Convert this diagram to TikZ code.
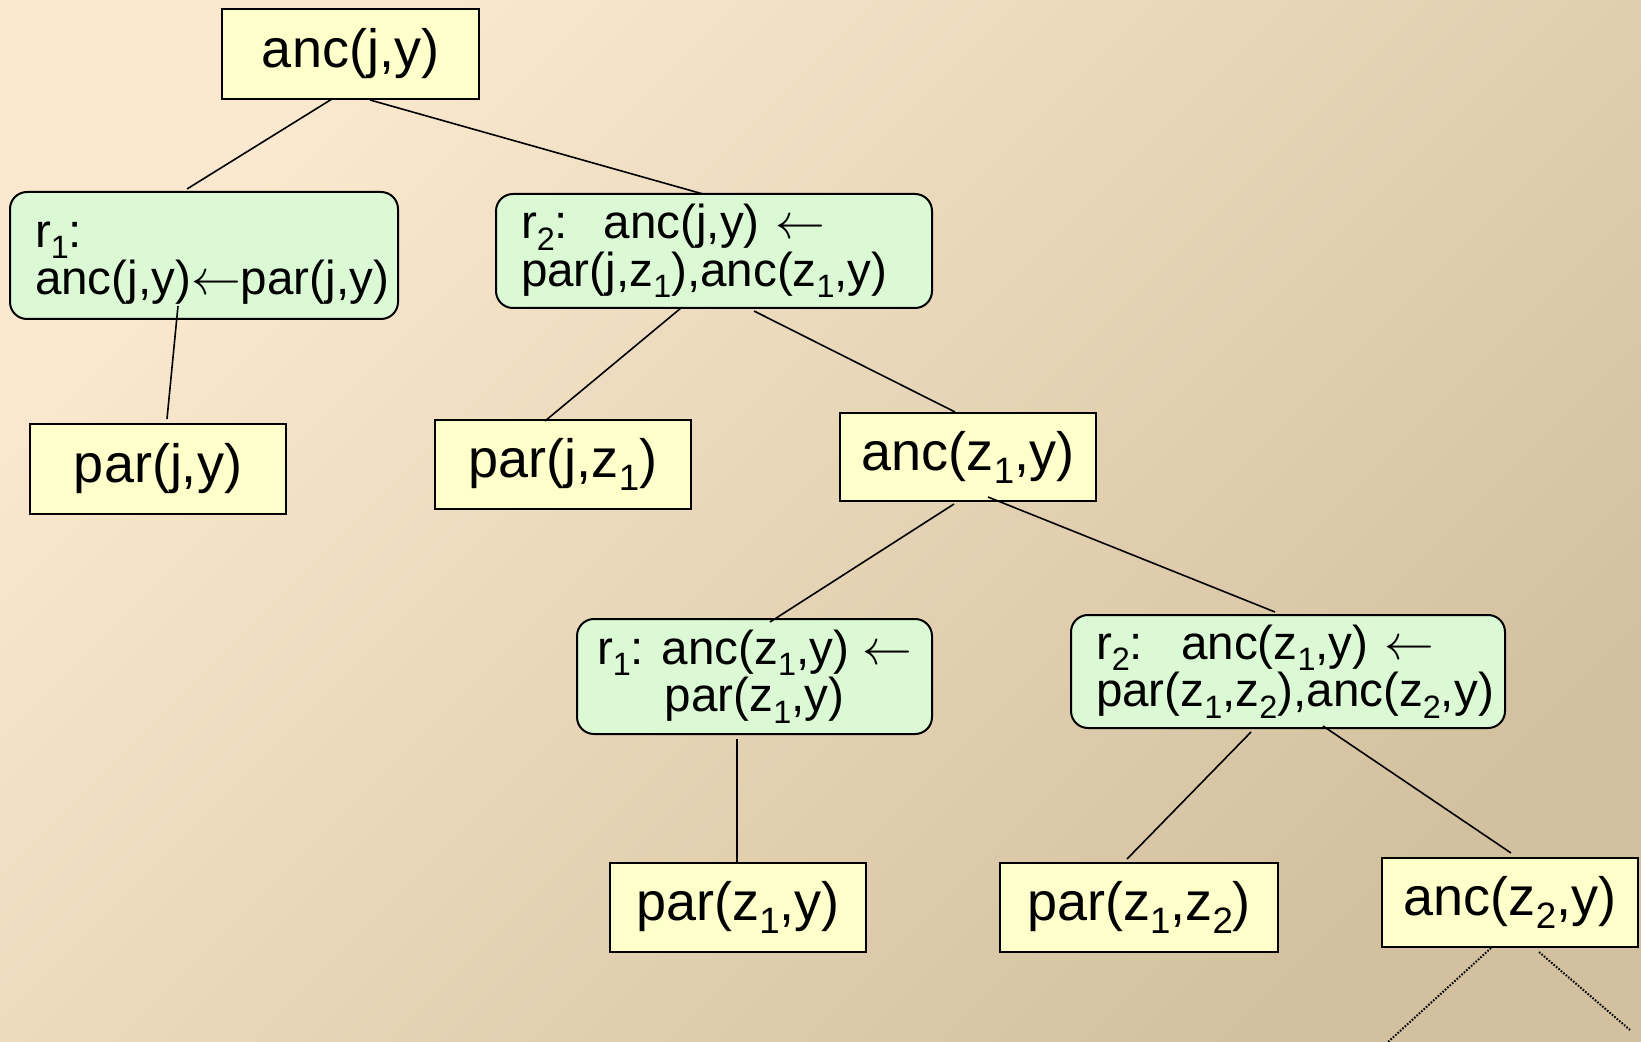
\documentclass[tikz,border=0pt]{standalone}
\usepackage{fontspec}
\setmainfont{Liberation Sans}
\usepackage{graphicx}
\usetikzlibrary{calc}

% lowered, reduced index digit
\newcommand\lo[1]{\raisebox{-0.24em}{\scalebox{0.68}{#1}}}

\definecolor{bgLight}{HTML}{FBE9CF}
\definecolor{bgDark}{HTML}{D2C09E}
\definecolor{factfill}{HTML}{FFFFCC}
\definecolor{rulefill}{HTML}{DCF9D5}

\tikzset{
  goal/.style={draw=black, line width=1pt, fill=factfill, anchor=north west,
    inner sep=0pt, outer sep=0pt, font=\fontsize{27}{30}\selectfont},
  clause/.style={draw=black, line width=1pt, fill=rulefill, anchor=north west,
    rounded corners=8.5pt, inner xsep=12.5pt, inner ysep=0pt, outer sep=0pt,
    font=\fontsize{23.8}{23.6}\selectfont},
  edge/.style={draw=black, line width=0.8pt},
  pending/.style={draw=black, line width=1pt, dash pattern=on 0.8pt off 0.8pt}
}

\begin{document}
\begin{tikzpicture}[x=0.5pt, y=-0.5pt]
  % page and background gradient
  \useasboundingbox (0,0) rectangle (1641,1042);
  \shade[top color=bgLight, bottom color=bgDark, shading angle=45]
    (0,0) rectangle (1641,1042);

  % goals and clauses
  \node[goal, minimum width=128.5pt, minimum height=45pt] (root) at (222,9) {anc(j,y)};
  \node[clause, text width=169pt, minimum height=63.5pt, align=left] (ra) at (10,192)
    {\rule{0pt}{0.85em}r\lo{1}:\\anc(j,y)$\leftarrow$par(j,y)};
  \node[clause, text width=193pt, minimum height=57pt, align=left] (rb) at (496,194)
    {r\lo{2}:\hspace{0.75em}anc(j,y) $\leftarrow$\\par(j,z\lo{1}),anc(z\lo{1},y)};
  \node[goal, minimum width=128pt, minimum height=45pt] (pjy) at (30,424) {par(j,y)};
  \node[goal, minimum width=128pt, minimum height=44.5pt] (pjz) at (435,420) {par(j,z\lo{1})};
  \node[goal, minimum width=128pt, minimum height=44pt] (az1) at (840,413) {anc(z\lo{1},y)};
  \node[clause, inner xsep=4pt, minimum width=177.5pt, minimum height=57.5pt, align=center] (rc) at (577,619)
    {r\lo{1}: anc(z\lo{1},y) $\leftarrow$\\par(z\lo{1},y)};
  \node[clause, text width=192pt, minimum height=56.5pt, align=left] (rd) at (1071,615)
    {r\lo{2}:\hspace{0.8em}anc(z\lo{1},y) $\leftarrow$\\par(z\lo{1},z\lo{2}),anc(z\lo{2},y)};
  \node[goal, minimum width=128pt, minimum height=44.5pt] (pz1y) at (610,863) {par(z\lo{1},y)};
  \node[goal, minimum width=139pt, minimum height=44.5pt] (pz1z2) at (1000,863) {par(z\lo{1},z\lo{2})};
  \node[goal, minimum width=128pt, minimum height=44.5pt] (az2) at (1382,858) {anc(z\lo{2},y)};

  % open ends below the last goal
  \coordinate (openL) at (1388,1042);
  \coordinate (openR) at (1630,1030);

  % tree edges
  \draw[edge] ($(root.south west)+(110,0)$) -- ($(ra.north west)+(177,-3)$);
  \draw[edge] ($(root.south west)+(148,1)$) -- ($(rb.north west)+(207,0)$);
  \draw[edge] ($(ra.south west)+(168,-13)$) -- ($(pjy.north west)+(137,-5)$);
  \draw[edge] ($(rb.south west)+(185,0)$) -- ($(pjz.north west)+(110,1)$);
  \draw[edge] ($(rb.south west)+(258,3)$) -- ($(az1.north west)+(115,-1)$);
  \draw[edge] ($(az1.south west)+(114,3)$) -- ($(rc.north west)+(193,3)$);
  \draw[edge] ($(az1.south west)+(148,-4)$) -- ($(rd.north west)+(204,-3)$);
  \draw[edge] ($(rc.south west)+(160,5)$) -- ($(pz1y.north west)+(127,0)$);
  \draw[edge] ($(rd.south west)+(180,4)$) -- ($(pz1z2.north west)+(127,-4)$);
  \draw[edge] ($(rd.south west)+(252,-2)$) -- ($(az2.north west)+(129,-5)$);
  \draw[pending] ($(az2.south west)+(109,1)$) -- (openL);
  \draw[pending] ($(az2.south west)+(157,5)$) -- (openR);
\end{tikzpicture}
\end{document}
